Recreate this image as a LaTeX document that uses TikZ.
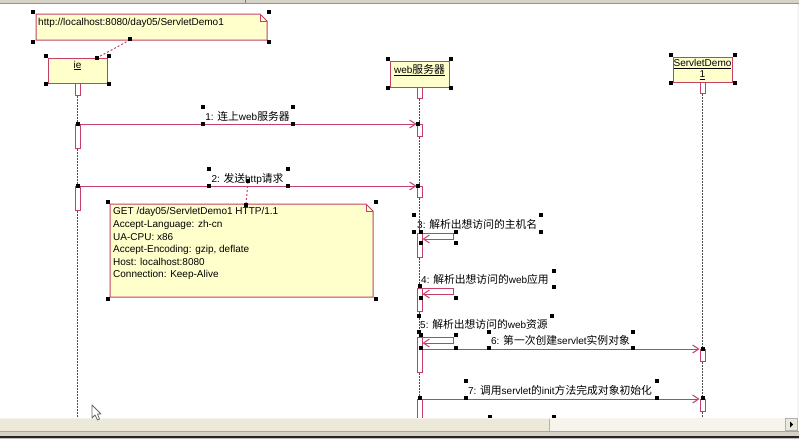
\documentclass[tikz,border=0pt]{standalone}
\usepackage{fontspec}
\setmainfont{Liberation Sans}
\newfontfamily\cjk{Noto Sans CJK SC}
\usepackage{tikz}
\usetikzlibrary{arrows.meta}
\usetikzlibrary{positioning}
\usepackage{color}
\newcommand{\zhtext}[1]{{\cjk\fontsize{10.8}{12}\selectfont #1}}
\definecolor{umlpink}{RGB}{196,64,104}
\definecolor{noteyellow}{RGB}{255,255,204}
\definecolor{winbeige}{RGB}{236,233,216}
\definecolor{chromegray}{RGB}{214,211,198}

\begin{document}
\begin{tikzpicture}[x=1pt,y=-1pt,
    every node/.style={font=\fontsize{10}{12}\selectfont, inner sep=0pt},
    lifehead/.style={draw=umlpink, fill=noteyellow, line width=1pt, minimum width=59pt, minimum height=25pt, align=center},
    actbar/.style={draw=umlpink, fill=white, line width=1pt, minimum width=5pt, anchor=north},
    msg/.style={umlpink, line width=1pt, -{Straight Barb[length=6pt,width=8pt]}},
    lifeline/.style={black!70, line width=1pt, dash pattern=on 1.5pt off 1.5pt},
    notelink/.style={umlpink, line width=1pt, dash pattern=on 2pt off 2pt},
    notebox/.style={draw=umlpink, fill=noteyellow, line width=1pt}]
    \useasboundingbox (0,0) rectangle (799,447);
    \fill[white] (0,0) rectangle (799,447);
    % notes
    \draw[notebox] (36,14) -- (260,14) -- (267,21) -- (267,40) -- (36,40) -- cycle;
    \draw[umlpink, line width=1pt] (260,14) |- (267,21);
    \draw[notebox] (110,204) -- (366,204) -- (373,211) -- (373,297) -- (110,297) -- cycle;
    \draw[umlpink, line width=1pt] (366,204) |- (373,211);
    \node[anchor=base west] (urlnote) at (38,25) {http://localhost:8080/day05/ServletDemo1};
    \node[anchor=north west, align=left, font=\fontsize{10}{12.6}\selectfont] (reqnote) at (113,207.5)
        {GET /day05/ServletDemo1 HTTP/1.1\\ Accept-Language: zh-cn\\ UA-CPU: x86\\
         Accept-Encoding: gzip, deflate\\ Host: localhost:8080\\ Connection: Keep-Alive};
    % lifeline heads
    \node[lifehead, text height=10pt, text depth=15pt] (ie) at (77.5,70.5) {\underline{ie}};
    \node[lifehead, text height=12pt, text depth=14pt] (web) at (419.5,74) {\underline{web\zhtext{服务器}}};
    \node[lifehead, font=\fontsize{10}{11}\selectfont] (servlet) at (702.5,69.5) {\underline{ServletDemo}\\\underline{1}};
    % activations
    \node[actbar, minimum height=12pt] (ie0) at (77.5,83) {};
    \node[actbar, minimum height=24pt] (ie1) at (77.5,124) {};
    \node[actbar, minimum height=24pt] (ie2) at (77.5,186) {};
    \node[actbar, minimum height=11pt] (w0) at (419.5,87) {};
    \node[actbar, minimum height=12pt] (w1) at (419.5,124) {};
    \node[actbar, minimum height=11pt] (w2) at (419.5,186) {};
    \node[actbar, minimum height=24pt] (w3) at (419.5,233) {};
    \node[actbar, minimum height=23pt] (w4) at (419.5,288) {};
    \node[actbar, minimum height=35pt] (w5) at (419.5,337) {};
    \node[actbar, minimum height=24pt] (w6) at (419.5,399) {};
    \node[actbar, minimum height=11pt] (s0) at (702.5,82) {};
    \node[actbar, minimum height=12pt] (s1) at (702.5,349) {};
    \node[actbar, minimum height=12pt] (s2) at (702.5,399) {};
    \coordinate (ieend) at (77.5,418);
    \coordinate (svend) at (702.5,418);
    \foreach \a/\b in {ie0/ie1, ie1/ie2, w0/w1, w1/w2, w2/w3, w3/w4, w4/w5, w5/w6, s0/s1, s1/s2}
        \draw[lifeline] (\a.south) -- (\b.north);
    \draw[lifeline] (ie2.south) -- (ieend);
    \draw[lifeline] (s2.south) -- (svend);
    % messages
    \draw[msg] (ie1.north) -- (w1.north west);
    \draw[msg] (ie2.north) -- (w2.north west);
    \draw[msg] (w3.north east) -- ++(31,0) -- ++(0,6) -- ([yshift=-6pt]w3.north east);
    \draw[msg] (w4.north east) -- ++(31,0) -- ++(0,6) -- ([yshift=-6pt]w4.north east);
    \draw[msg] (w5.north east) -- ++(31,0) -- ++(0,6) -- ([yshift=-6pt]w5.north east);
    \draw[msg] (w5.east |- s1.north) -- (s1.north west);
    \draw[msg] (w6.north) -- (s2.north west);
    \node[anchor=base] (m1) at (247.5,120) {1: \zhtext{连上}web\zhtext{服务器}};
    \node[anchor=base] (m2) at (247.5,182) {2: \zhtext{发送}http\zhtext{请求}};
    \node[anchor=base west] (m3) at (417,228) {3: \zhtext{解析出想访问的主机名}};
    \node[anchor=base west] (m4) at (421,283) {4: \zhtext{解析出想访问的}web\zhtext{应用}};
    \node[anchor=base west] (m5) at (420,328) {5: \zhtext{解析出想访问的}web\zhtext{资源}};
    \node[anchor=base] (m6) at (560.5,344) {6: \zhtext{第一次创建}servlet\zhtext{实例对象}};
    \node[anchor=base] (m7) at (560,394) {7: \zhtext{调用}servlet\zhtext{的}init\zhtext{方法完成对象初始化}};
    % note links
    \coordinate (urltail) at (130,40);
    \coordinate (reqtip) at (248,182);
    \coordinate (reqtail) at (246,204);
    \draw[notelink] (urltail) -- ([xshift=-10pt]ie.north east);
    \draw[notelink] (reqtip) -- (reqtail);
    % selection handles
    \foreach \hx/\hy in {33/12, 269/12, 33/42, 269/42, 130/39, 46/56, 109/56, 46/84, 109/84, 97/58,
        388/59, 451/59, 388/88, 451/88, 671/55, 735/55, 671/83, 735/83,
        203/107, 293/107, 203/124, 293/124, 78/124, 418/124,
        209/169, 288/169, 209/186, 288/186, 78/186, 418/186, 248/181, 246/205,
        108/202, 376/202, 108/299, 376/299,
        414/215, 541/215, 414/232, 541/232, 421/232, 456/232, 421/243, 456/243,
        554/271, 554/287, 420/286, 421/298, 456/298,
        419/316, 552/316, 419/332, 421/335, 456/335, 421/348, 456/348,
        489/332, 633/332, 489/348, 633/348, 703/349,
        466/381, 657/381, 466/398, 657/398, 420/398, 703/398, 490/417, 554/417}
        \fill (\hx,\hy) ++(-2,-2) rectangle ++(4,4);
    % window chrome
    \fill[chromegray] (0,0) rectangle (799,3);
    \fill[chromegray!70!black] (0,3) rectangle (799,4);
    \draw[gray] (245,0) -- (245,3);
    \fill[gray!8] (796.5,4) rectangle (799,418);
    \fill[winbeige!50!white] (0,418) rectangle (785,431);
    \fill[winbeige] (0,418.5) rectangle (549,430.5);
    \draw[gray!60] (549,418.5) -- (549,430.5);
    \fill[winbeige] (785,418.5) rectangle (797,430.5);
    \draw[gray!60] (785,418.5) rectangle (797,430.5);
    \fill[black] (790,421.5) -- (793,424.5) -- (790,427.5) -- cycle;
    \fill[gray!70] (0,430.5) rectangle (799,431.5);
    \fill[chromegray] (0,431.5) rectangle (799,435.5);
    \fill[black!85] (0,435.5) rectangle (799,437.5);
    \fill[gray!50] (0,438) rectangle (799,439);
    % cursor
    \draw[fill=white, draw=black!60, line width=0.8pt, line join=round]
        (92,405) -- (92,418) -- (95,415) -- (97.5,420) -- (99.5,419) -- (97.5,414) -- (101,414) -- cycle;
\end{tikzpicture}
\end{document}
